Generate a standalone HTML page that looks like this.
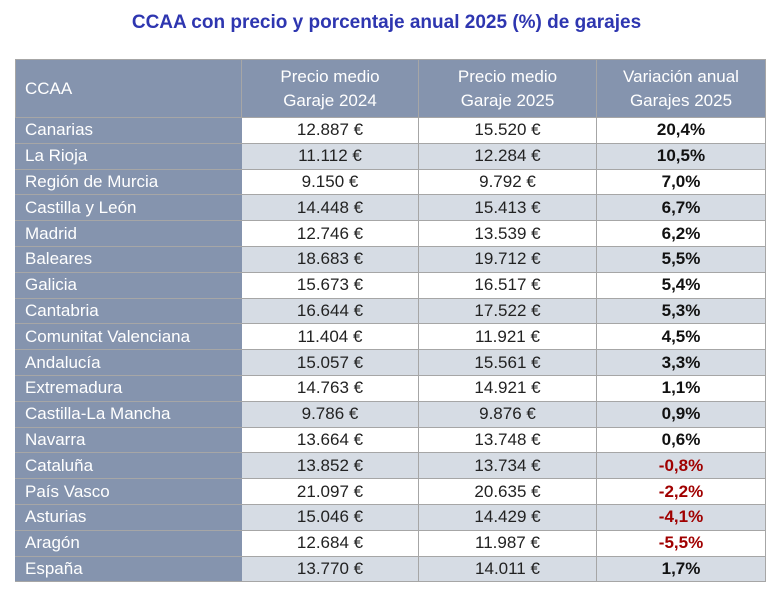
<!DOCTYPE html>
<html><head><meta charset="utf-8"><style>
body{margin:0;width:773px;height:601px;background:#fff;font-family:"Liberation Sans",sans-serif;}
.t{position:absolute;top:12px;left:0;width:773px;text-align:center;color:#2e36b0;font-weight:bold;font-size:19px;}
table{position:absolute;left:15px;top:59px;border-collapse:collapse;width:750px;table-layout:fixed;font-size:17px;}
td,th{border:1px solid #a6a6a6;padding:0;height:24.8px;line-height:20px;color:#222;}
th{background:#8594ae;color:#fff;font-weight:normal;height:57px;line-height:24px;text-align:center;}
th:first-child{text-align:left;padding-left:9px;}
td{text-align:center;}
td:first-child{background:#8594ae;color:#fff;padding-left:9px;text-align:left;border-color:#8594ae;border-bottom-color:#a6a6a6;}
tr:nth-child(odd) td{background:#d6dce4;}
tr:nth-child(odd) td:first-child{background:#8594ae;}
td:last-child{font-weight:bold;color:#111;}
.n{color:#a00000!important;}
</style></head><body>
<div class="t">CCAA con precio y porcentaje anual 2025 (%) de garajes</div>
<table>
<colgroup><col style="width:226px"><col style="width:177px"><col style="width:178px"><col style="width:169px"></colgroup>
<tr><th>CCAA</th><th>Precio medio<br>Garaje 2024</th><th>Precio medio<br>Garaje 2025</th><th>Variación anual<br>Garajes 2025</th></tr>
<tr><td>Canarias</td><td>12.887 €</td><td>15.520 €</td><td>20,4%</td></tr>
<tr><td>La Rioja</td><td>11.112 €</td><td>12.284 €</td><td>10,5%</td></tr>
<tr><td>Región de Murcia</td><td>9.150 €</td><td>9.792 €</td><td>7,0%</td></tr>
<tr><td>Castilla y León</td><td>14.448 €</td><td>15.413 €</td><td>6,7%</td></tr>
<tr><td>Madrid</td><td>12.746 €</td><td>13.539 €</td><td>6,2%</td></tr>
<tr><td>Baleares</td><td>18.683 €</td><td>19.712 €</td><td>5,5%</td></tr>
<tr><td>Galicia</td><td>15.673 €</td><td>16.517 €</td><td>5,4%</td></tr>
<tr><td>Cantabria</td><td>16.644 €</td><td>17.522 €</td><td>5,3%</td></tr>
<tr><td>Comunitat Valenciana</td><td>11.404 €</td><td>11.921 €</td><td>4,5%</td></tr>
<tr><td>Andalucía</td><td>15.057 €</td><td>15.561 €</td><td>3,3%</td></tr>
<tr><td>Extremadura</td><td>14.763 €</td><td>14.921 €</td><td>1,1%</td></tr>
<tr><td>Castilla-La Mancha</td><td>9.786 €</td><td>9.876 €</td><td>0,9%</td></tr>
<tr><td>Navarra</td><td>13.664 €</td><td>13.748 €</td><td>0,6%</td></tr>
<tr><td>Cataluña</td><td>13.852 €</td><td>13.734 €</td><td class="n">-0,8%</td></tr>
<tr><td>País Vasco</td><td>21.097 €</td><td>20.635 €</td><td class="n">-2,2%</td></tr>
<tr><td>Asturias</td><td>15.046 €</td><td>14.429 €</td><td class="n">-4,1%</td></tr>
<tr><td>Aragón</td><td>12.684 €</td><td>11.987 €</td><td class="n">-5,5%</td></tr>
<tr><td>España</td><td>13.770 €</td><td>14.011 €</td><td>1,7%</td></tr>
</table>
</body></html>
